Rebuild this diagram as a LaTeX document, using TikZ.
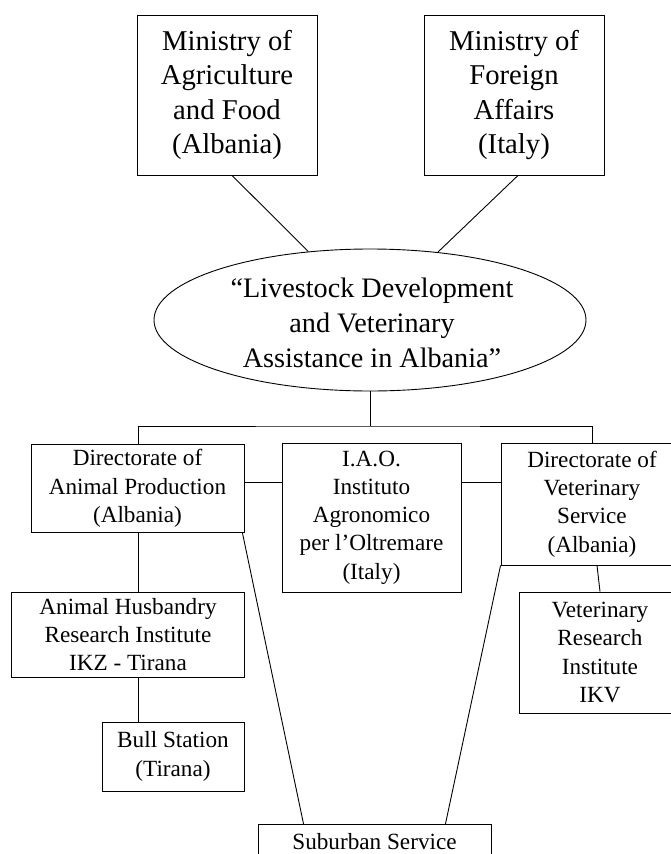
\documentclass[tikz,border=0pt]{standalone}
\usepackage{fontspec}
\setmainfont{Liberation Serif}
\usetikzlibrary{shapes.geometric}
\begin{document}
\begin{tikzpicture}[x=1pt,y=-1pt,
  box/.style={draw, line width=0.9pt, inner sep=0pt, align=center, font=\fontsize{23.2}{28.3}\selectfont},
  bigbox/.style={box, font=\fontsize{28.7}{34.5}\selectfont},
  conn/.style={line width=0.9pt}]
\useasboundingbox (0,0) rectangle (671,854);
\clip (0,0) rectangle (671,854);
% top ministries
\node[bigbox, minimum width=180pt, minimum height=160pt] (m1) at (227,95) {Ministry of\\Agriculture\\and Food\\(Albania)};
\node[bigbox, minimum width=180pt, minimum height=160pt] (m2) at (514,95) {Ministry of\\Foreign\\Affairs\\(Italy)};
% project ellipse
\node[ellipse, draw, line width=0.9pt, inner sep=0pt, minimum width=432pt, minimum height=142pt] (ell) at (370,320) {};
\node[align=center, inner sep=0pt, font=\fontsize{28.2}{35.2}\selectfont] (elltext) at (372,323) {“Livestock Development\\and Veterinary\\Assistance in Albania”};
% second level
\node[box, minimum width=213pt, minimum height=88pt] (dap) at (137.5,488.5) {Directorate of\\Animal Production\\(Albania)};
\node[box, minimum width=179pt, minimum height=149pt] (iao) at (371.5,517.5) {I.A.O.\\Instituto\\Agronomico\\per l’Oltremare\\(Italy)};
\node[box, minimum width=182pt, minimum height=122pt] (dvs) at (592,504) {Directorate of\\Veterinary\\Service\\(Albania)};
% third level
\node[box, minimum width=232.5pt, minimum height=85pt] (ahr) at (128,634.5) {Animal Husbandry\\Research Institute\\IKZ - Tirana};
\node[box, minimum width=142pt, minimum height=69pt] (bull) at (173,756.5) {Bull Station\\(Tirana)};
\node[box, minimum width=162pt, minimum height=121pt] (vri) at (600,652.5) {Veterinary\\Research\\Institute\\IKV};
\node[box, anchor=north, minimum width=233pt, text height=25pt, text depth=60pt] (sub) at (374.5,824) {Suburban Service};
% helper coordinates
\coordinate (hub) at (370,426);
\coordinate (yline) at (0,482);
% connectors
\draw[conn] ([xshift=5pt]m1.south) -- (ell.132);
\draw[conn] ([xshift=4pt]m2.south) -- (ell.45);
\draw[conn] (ell.south) -- (hub);
\draw[conn] ([xshift=1pt]dap.north) |- (hub) -| (dvs.north);
\draw[conn] (dap.east |- yline) -- (iao.west |- yline);
\draw[conn] (iao.east |- yline) -- (dvs.west |- yline);
\draw[conn] ([xshift=1pt]dap.south) -- ([xshift=1pt]dap.south |- ahr.north);
\draw[conn] ([xshift=1pt]dap.south |- ahr.south) -- ([xshift=1pt]dap.south |- bull.north);
\draw[conn] ([xshift=5pt]dvs.south) -- (vri.north);
\draw[conn] ([xshift=-2pt]dap.south east) -- ([xshift=46pt]sub.north west);
\draw[conn] (dvs.south west) -- ([xshift=-46pt]sub.north east);
\end{tikzpicture}
\end{document}
